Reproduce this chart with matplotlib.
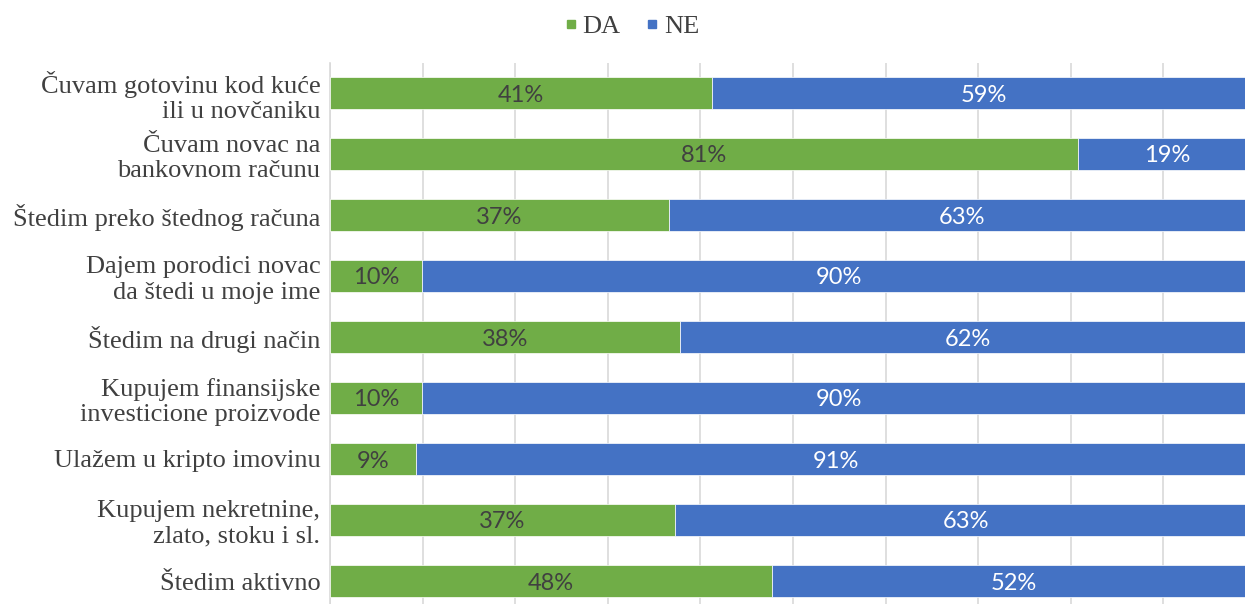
import matplotlib.pyplot as plt
from matplotlib.lines import Line2D

# podaci (udio DA; NE = ostatak do 100%)
categories = [
    "Čuvam gotovinu kod kuće\nili u novčaniku",
    "Čuvam novac na\nbankovnom računu",
    "Štedim preko štednog računa",
    "Dajem porodici novac\nda štedi u moje ime",
    "Štedim na drugi način",
    "Kupujem finansijske\ninvesticione proizvode",
    "Ulažem u kripto imovinu",
    "Kupujem nekretnine,\nzlato, stoku i sl.",
    "Štedim aktivno",
]
da = [0.4125, 0.808, 0.366, 0.0994, 0.378, 0.0994, 0.0929, 0.3726, 0.477]
ne = [1 - v for v in da]

green = "#70AD47"
blue = "#4472C4"

fig = plt.figure(figsize=(12.45, 6.04), dpi=100)
ax = fig.add_axes([330 / 1245, -7.5 / 604, 926 / 1245, 549 / 604])

y = list(range(len(categories)))
ax.barh(y, da, height=0.54, color=green, edgecolor="white", linewidth=0.5, zorder=3)
ax.barh(y, ne, left=da, height=0.54, color=blue, edgecolor="white", linewidth=0.5, zorder=3)

for i in y:
    ax.text(da[i] / 2, i, f"{round(da[i] * 100)}%", ha="center", va="center_baseline",
            color="#404040", fontsize=17, family="Lato", zorder=4)
    ax.text(da[i] + ne[i] / 2, i, f"{round(ne[i] * 100)}%", ha="center", va="center_baseline",
            color="white", fontsize=17, family="Lato", zorder=4)

ax.set_xlim(0, 1)
ax.set_ylim(len(categories) - 0.5, -0.5)
ax.set_xticks([i / 10 for i in range(11)])
ax.set_xticklabels([])
ax.tick_params(axis="x", length=0)
ax.tick_params(axis="y", length=0, pad=7)
ax.grid(axis="x", color="#D9D9D9", linewidth=1.2, zorder=0)
ax.set_yticks(y)
ax.set_yticklabels(categories, fontsize=19, family="Liberation Serif",
                   color="#404040", linespacing=1.2)
for s in ["top", "right", "bottom"]:
    ax.spines[s].set_visible(False)
ax.spines["left"].set_color("#D9D9D9")
ax.spines["left"].set_linewidth(1.2)

handles = [
    Line2D([], [], marker="s", linestyle="", color=green, markersize=6),
    Line2D([], [], marker="s", linestyle="", color=blue, markersize=6),
]
fig.legend(handles, ["DA", "NE"], loc="upper center", bbox_to_anchor=(0.508, 1.015),
           ncol=2, frameon=False, handlelength=0.4, handletextpad=0.25, columnspacing=1.0,
           prop={"family": "Liberation Serif", "size": 19})
for t in fig.legends[0].get_texts():
    t.set_color("#404040")

fig.savefig("out.png", dpi=100)
